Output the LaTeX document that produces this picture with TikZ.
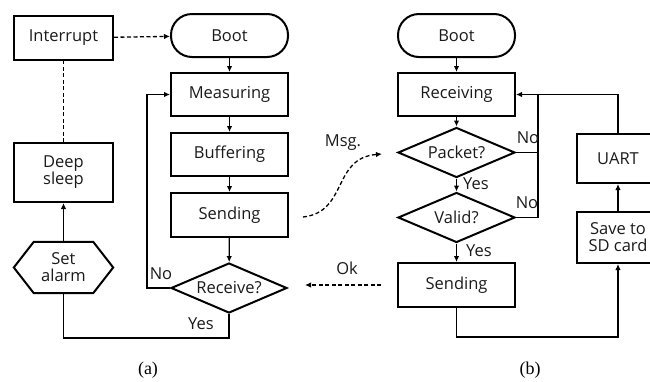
\documentclass[tikz,border=0pt]{standalone}
\usepackage{fontspec}
\setmainfont{Open Sans}
\newfontfamily\capfont{Liberation Serif}
\usetikzlibrary{shapes.geometric,arrows.meta}

\definecolor{ink}{HTML}{1A1A1A}
\tikzset{
  txt/.style={font=\fontsize{16.5}{20}\selectfont, text=ink},
  box/.style={draw, txt, line width=2pt, minimum width=117pt, minimum height=43pt, inner sep=0pt},
  terminal/.style={box, rounded corners=21pt},
  decision/.style={draw, txt, diamond, line width=2pt, aspect=2.3, inner sep=0pt, minimum width=117pt, minimum height=50pt},
  tip/.style={-{Latex[length=6pt,width=5.5pt]}},
  flow/.style={line width=1.3pt, tip},
  link/.style={line width=1.3pt},
  dashlink/.style={line width=1.3pt, dash pattern=on 4pt off 2.5pt},
  lbl/.style={txt, inner sep=0pt},
  caption/.style={font=\capfont\fontsize{18}{21}\selectfont, inner sep=0pt}
}

\begin{document}
\begin{tikzpicture}[x=1pt, y=-1pt]
\useasboundingbox (0,0) rectangle (650,381);
\clip (0,0) rectangle (650,381);

% ---- (a) sensor node ----
\node[box, minimum width=99pt, minimum height=44pt] (intr) at (63.5,38) {Interrupt};
\node[terminal] (boota) at (229.5,35.5) {Boot};
\node[box] (meas) at (229.5,94.5) {Measuring};
\node[box] (buff) at (229.5,154.5) {Buffering};
\node[box, minimum height=44pt] (senda) at (229.5,215) {Sending};
\node[decision, minimum width=116pt] (recv) at (229,288) {\makebox[0pt]{\raisebox{-2pt}{Receive?}}};
\node[box, minimum width=99pt, minimum height=59pt, align=center] (deep) at (63.5,172.5) {Deep\\[-3pt]sleep};
\node[txt, minimum width=99pt, minimum height=51pt, inner sep=0pt, align=center] (alarm) at (63.5,267.5) {Set\\[-3pt]alarm};
\draw[line width=2pt, line join=miter] (alarm.west) -- ([xshift=20pt]alarm.north west) -- ([xshift=-20pt]alarm.north east)
  -- (alarm.east) -- ([xshift=-20pt]alarm.south east) -- ([xshift=20pt]alarm.south west) -- cycle;

\draw[flow] (boota) -- (meas);
\draw[flow] (meas) -- (buff);
\draw[flow] (buff) -- (senda);
\draw[flow] (senda) -- (recv);
\draw[flow] (recv.west) -- ++(-23,0) |- (meas.west);
\draw[link] (recv.south) -- ++(0,24) -| (alarm.south);
\draw[flow] (alarm) -- (deep);
\draw[dashlink] (deep) -- (intr);
\draw[dashlink, tip] (intr) -- (boota);
\node[lbl] at (161,274) {No};
\node[lbl] at (201,324) {Yes};

% ---- (b) gateway ----
\node[terminal] (bootb) at (456.5,35.5) {Boot};
\node[box] (rcv) at (456.5,94.5) {Receiving};
\node[decision] (pkt) at (456.5,152.5) {\makebox[0pt]{Packet?}};
\node[decision] (valid) at (456.5,217.5) {\makebox[0pt]{Valid?}};
\node[box, minimum height=44pt] (sendb) at (456.5,285) {Sending};
\node[box, minimum width=82pt, minimum height=49pt] (uart) at (618,158.5) {UART};
\node[box, minimum width=82pt, minimum height=51pt, align=center] (sd) at (618,237.5) {Save to\\[-3pt]SD card};

\coordinate (join) at (538,94.5);
\draw[flow] (bootb) -- (rcv);
\draw[flow] (rcv) -- (pkt);
\draw[flow] (pkt) -- (valid);
\draw[flow] (valid) -- (sendb);
\draw[link] (pkt.east) -- (pkt.east -| join);
\draw[flow] (valid.east) -| (join) -- (rcv.east);
\draw[link] (uart.north) |- (join);
\draw[flow] (sendb.south) -- ++(0,29) -| (sd.south);
\draw[flow] (sd) -- (uart);
\node[lbl] at (528,138) {No};
\node[lbl] at (527,203) {No};
\node[lbl] at (476,184) {Yes};
\node[lbl] at (479,251) {Yes};

% ---- messages between the two charts ----
\coordinate (msgfrom) at (303,217);
\coordinate (msgto) at (382,154);
\draw[dashlink, tip] (msgfrom) .. controls (348,212) and (332,158) .. (msgto);
\node[lbl] at (343,143) {Msg.};
\coordinate (okfrom) at (381,285);
\coordinate (okto) at (305,285);
\draw[dashlink, tip] (okfrom) -- (okto);
\node[lbl] at (347,268) {Ok};

\node[caption] (capa) at (148,370) {(a)};
\node[caption] (capb) at (530,370) {(b)};
\end{tikzpicture}
\end{document}
